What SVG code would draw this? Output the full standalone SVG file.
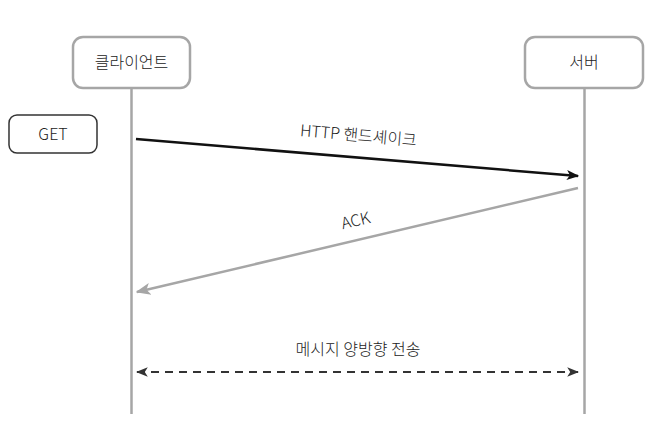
<svg xmlns="http://www.w3.org/2000/svg" width="671" height="424" viewBox="0 0 671 424">
<defs>
<style>
.node{fill:#fff;stroke:#a6a6a6;stroke-width:2.5}
.lbl{font-family:"Noto Sans CJK KR","Noto Sans",sans-serif;font-size:16px;font-weight:300;fill:#222;text-anchor:middle}
.life{stroke:#a6a6a6;stroke-width:2.5;fill:none}
</style>
<marker id="ab" viewBox="0 0 10 10" refX="9" refY="5" markerWidth="5" markerHeight="5" orient="auto-start-reverse" markerUnits="strokeWidth"><path d="M0,1 L10,5 L0,9 L2.5,5 Z" fill="#111"/></marker>
<marker id="ag" viewBox="0 0 10 10" refX="9" refY="5" markerWidth="6" markerHeight="6" orient="auto-start-reverse" markerUnits="strokeWidth"><path d="M0,1 L10,5 L0,9 L2.5,5 Z" fill="#a6a6a6"/></marker>
<marker id="ad" viewBox="0 0 10 10" refX="9" refY="5" markerWidth="6" markerHeight="6" orient="auto-start-reverse" markerUnits="strokeWidth"><path d="M0,1 L10,5 L0,9 L2.5,5 Z" fill="#333"/></marker>
</defs>
<rect width="671" height="424" fill="#fff"/>
<g id="lifelines">
<line class="life" x1="131.5" y1="88" x2="131.5" y2="414"/>
<line class="life" x1="584.5" y1="88" x2="584.5" y2="414"/>
</g>
<g id="client">
<rect class="node" x="73" y="37" width="117" height="51" rx="10"/>
<text class="lbl" x="131.5" y="68">클라이언트</text>
</g>
<g id="server">
<rect class="node" x="525" y="37" width="118" height="51" rx="10"/>
<text class="lbl" x="584" y="68">서버</text>
</g>
<g id="get">
<rect x="9" y="115" width="88" height="38" rx="8" fill="#fff" stroke="#333" stroke-width="1.5"/>
<text class="lbl" x="53" y="139.5">GET</text>
</g>
<g id="connectors">
<line x1="136" y1="139" x2="578" y2="176" stroke="#111" stroke-width="2.5" marker-end="url(#ab)"/>
<line x1="578" y1="188" x2="137" y2="292" stroke="#a6a6a6" stroke-width="2.5" marker-end="url(#ag)"/>
<line x1="137" y1="372" x2="578" y2="372" stroke="#333" stroke-width="2" stroke-dasharray="8,6" marker-start="url(#ad)" marker-end="url(#ad)"/>
</g>
<g id="labels">
<text class="lbl" transform="translate(358,141) rotate(4.8)">HTTP 핸드셰이크</text>
<text class="lbl" transform="translate(357,226) rotate(-13.3)">ACK</text>
<text class="lbl" x="358" y="355">메시지 양방향 전송</text>
</g>
</svg>
